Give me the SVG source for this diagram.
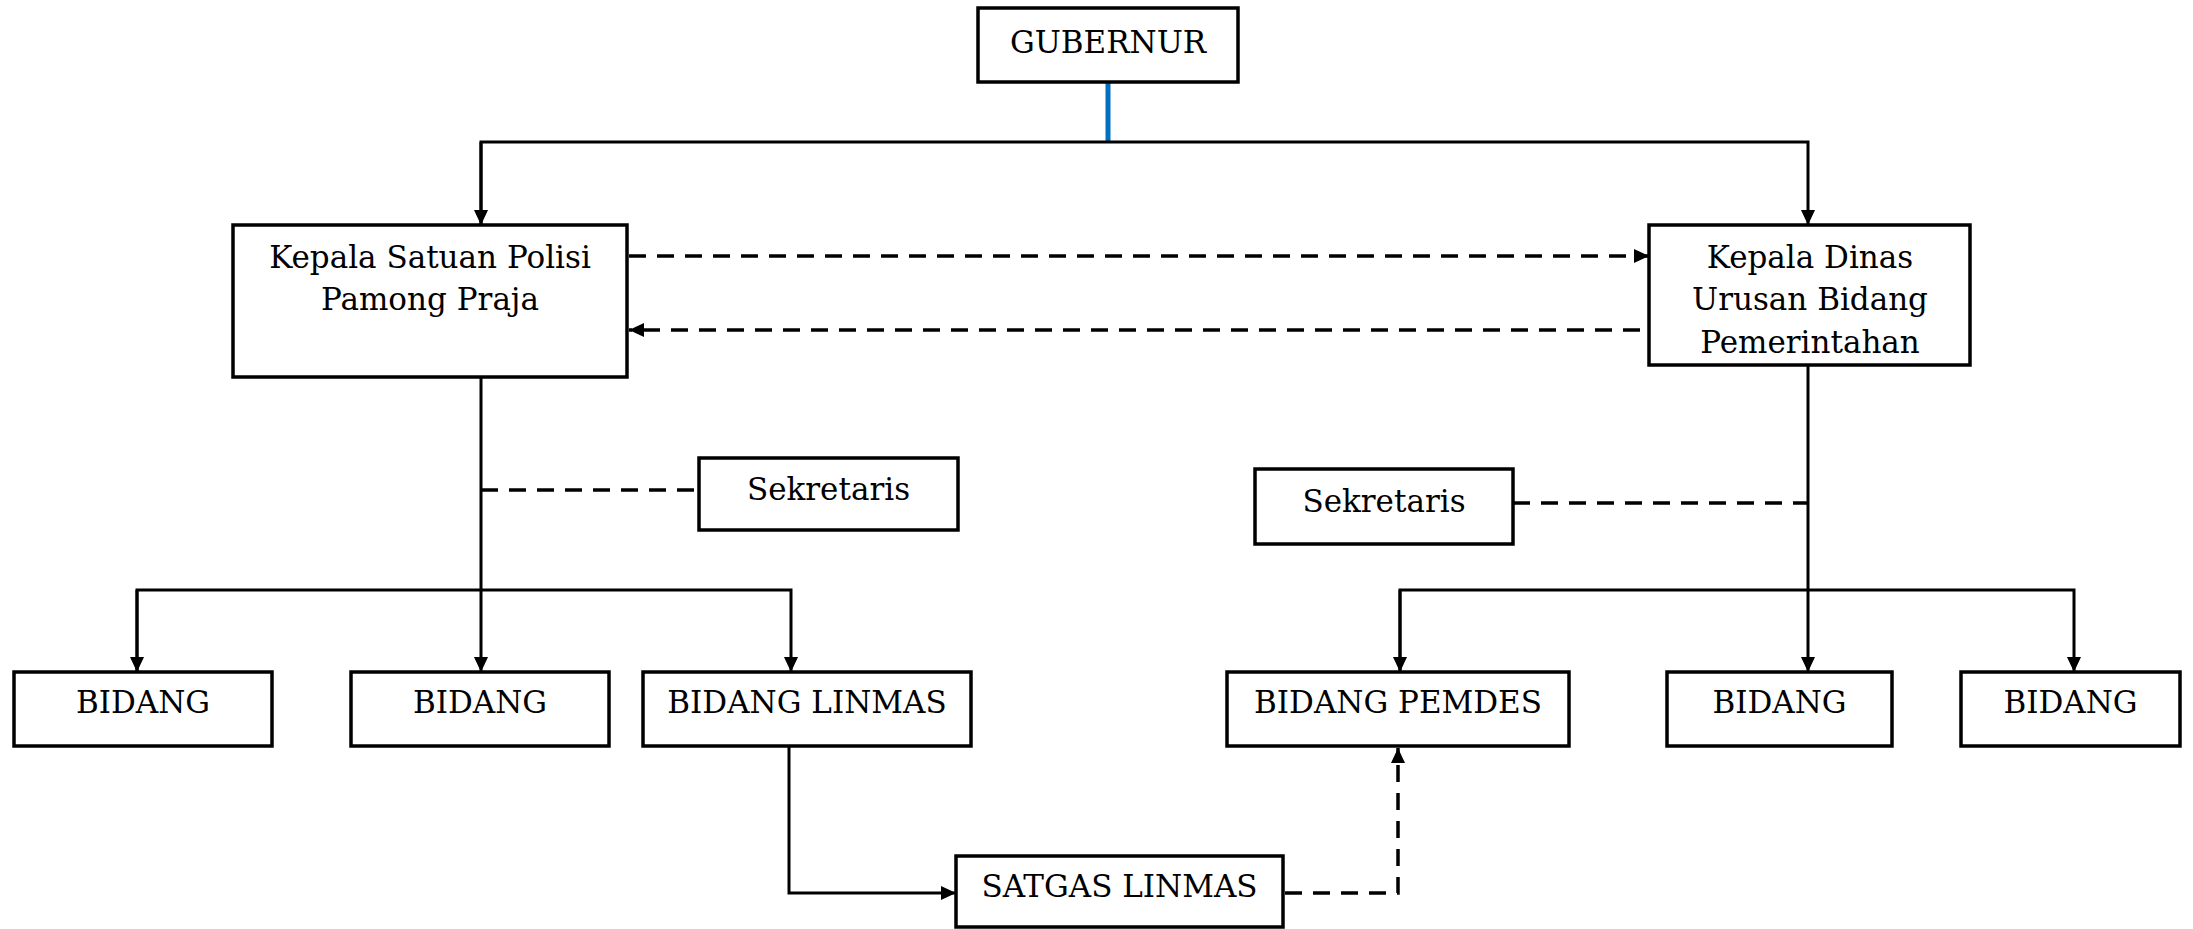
<svg xmlns="http://www.w3.org/2000/svg" width="2193" height="929" viewBox="0 0 2193 929">
<style>
.box{fill:#fff;stroke:#000;stroke-width:3.5}
.t{font-family:"DejaVu Serif","Liberation Serif",serif;font-size:31px;fill:#000;text-anchor:middle}
.ln{fill:none;stroke:#000;stroke-width:3}
.dash{fill:none;stroke:#000;stroke-width:3.5;stroke-dasharray:17 11}
</style>
<defs>
<marker id="ah" markerUnits="userSpaceOnUse" markerWidth="15" markerHeight="14" refX="15" refY="7" orient="auto">
<path d="M0,0 L15,7 L0,14 z" fill="#000"/>
</marker>
</defs>
<g id="connectors">
<line x1="1108" y1="82" x2="1108" y2="142" stroke="#0070C0" stroke-width="5"/>
<polyline class="ln" points="481,225 481,142 1808,142 1808,225" marker-end="url(#ah)"/>
<line class="ln" x1="481" y1="142" x2="481" y2="225" marker-end="url(#ah)"/>
<line class="dash" x1="629" y1="256" x2="1649" y2="256" marker-end="url(#ah)"/>
<line class="dash" x1="1640" y1="330" x2="629" y2="330" marker-end="url(#ah)"/>
<line class="ln" x1="481" y1="377" x2="481" y2="672" marker-end="url(#ah)"/>
<line class="dash" x1="481" y1="490" x2="699" y2="490"/>
<polyline class="ln" points="137,672 137,590 791,590 791,672" marker-end="url(#ah)"/>
<line class="ln" x1="137" y1="590" x2="137" y2="672" marker-end="url(#ah)"/>
<line class="ln" x1="1808" y1="365" x2="1808" y2="672" marker-end="url(#ah)"/>
<line class="dash" x1="1513" y1="503" x2="1808" y2="503"/>
<polyline class="ln" points="1400,672 1400,590 2074,590 2074,672" marker-end="url(#ah)"/>
<line class="ln" x1="1400" y1="590" x2="1400" y2="672" marker-end="url(#ah)"/>
<polyline class="ln" points="789,746 789,893 956,893" marker-end="url(#ah)"/>
<polyline class="dash" points="1285,893 1398,893 1398,748" marker-end="url(#ah)"/>
</g>
<g id="gubernur"><rect class="box" x="978" y="8" width="260" height="74"/><text class="t" x="1108" y="53">GUBERNUR</text></g>
<g id="kasatpol"><rect class="box" x="233" y="225" width="394" height="152"/><text class="t" x="430" y="268">Kepala Satuan Polisi</text><text class="t" x="430" y="310">Pamong Praja</text></g>
<g id="kadinas"><rect class="box" x="1649" y="225" width="321" height="140"/><text class="t" x="1810" y="268">Kepala Dinas</text><text class="t" x="1810" y="310">Urusan Bidang</text><text class="t" x="1810" y="353">Pemerintahan</text></g>
<g id="sekretaris-l"><rect class="box" x="699" y="458" width="259" height="72"/><text class="t" x="828.5" y="500">Sekretaris</text></g>
<g id="sekretaris-r"><rect class="box" x="1255" y="469" width="258" height="75"/><text class="t" x="1384" y="512">Sekretaris</text></g>
<g id="bidang-l1"><rect class="box" x="14" y="672" width="258" height="74"/><text class="t" x="143" y="713">BIDANG</text></g>
<g id="bidang-l2"><rect class="box" x="351" y="672" width="258" height="74"/><text class="t" x="480" y="713">BIDANG</text></g>
<g id="bidang-linmas"><rect class="box" x="643" y="672" width="328" height="74"/><text class="t" x="807" y="713">BIDANG LINMAS</text></g>
<g id="bidang-pemdes"><rect class="box" x="1227" y="672" width="342" height="74"/><text class="t" x="1398" y="713">BIDANG PEMDES</text></g>
<g id="bidang-r2"><rect class="box" x="1667" y="672" width="225" height="74"/><text class="t" x="1779.5" y="713">BIDANG</text></g>
<g id="bidang-r3"><rect class="box" x="1961" y="672" width="219" height="74"/><text class="t" x="2070.5" y="713">BIDANG</text></g>
<g id="satgas"><rect class="box" x="956" y="856" width="327" height="71"/><text class="t" x="1119.5" y="897">SATGAS LINMAS</text></g>
</svg>
